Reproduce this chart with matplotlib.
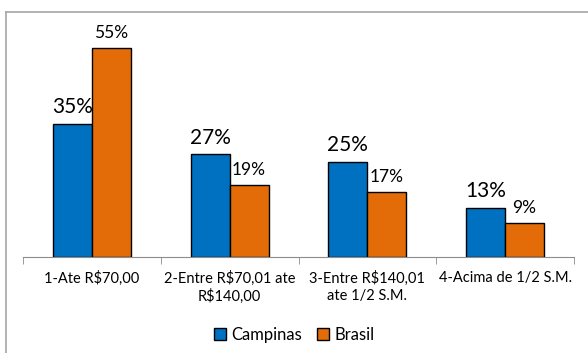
import matplotlib.pyplot as plt
import numpy as np
from matplotlib.lines import Line2D

categorias = ['1-Ate R$70,00', '2-Entre R$70,01 ate\nR$140,00',
              '3-Entre R$140,01\nate 1/2 S.M.', '4-Acima de 1/2 S.M.']
campinas = [35, 27, 25, 13]
brasil = [55, 19, 17, 9]

plt.rcParams['font.family'] = ['Lato', 'DejaVu Sans']

fig = plt.figure(figsize=(5.88, 3.53), dpi=100)
W, H = 588, 353
ax = fig.add_axes([23 / W, (H - 257) / H, (574 - 23) / W, (257 - 20) / H])

x = np.arange(len(categorias))
w = 0.283
b1 = ax.bar(x - w / 2, campinas, w, color='#0070C0', edgecolor='black', lw=1, label='Campinas')
b2 = ax.bar(x + w / 2, brasil, w, color='#E36C09', edgecolor='black', lw=1, label='Brasil')

for r, v in zip(b1, campinas):
    ax.annotate('%d%%' % v, (r.get_x() + r.get_width() / 2, v), xytext=(0, 5),
                textcoords='offset points', ha='center', va='bottom', fontsize=15)
for r, v in zip(b2, brasil):
    ax.annotate('%d%%' % v, (r.get_x() + r.get_width() / 2, v), xytext=(0, 5),
                textcoords='offset points', ha='center', va='bottom', fontsize=12.5)

ax.set_xlim(-0.5, 3.5)
ax.set_ylim(0, 62.4)
ax.set_yticks([])
for s in ['left', 'right', 'top']:
    ax.spines[s].set_visible(False)
ax.spines['bottom'].set_color('#8C8C8C')
ax.set_xticks(x)
ax.set_xticklabels(categorias, fontsize=10.5, linespacing=1.25)
ax.tick_params(axis='x', which='major', length=0, pad=10)
ax.set_xticks(np.arange(-0.5, 4, 1), minor=True)
ax.tick_params(axis='x', which='minor', length=5, color='#8C8C8C')

fig.legend(handles=[b1, b2], loc='center', bbox_to_anchor=(0.5, 1 - 335 / H), ncol=2,
           frameon=False, fontsize=12, handlelength=0.75, handleheight=0.75,
           handletextpad=0.3, columnspacing=0.9)

# moldura do grafico
fig.add_artist(Line2D([6 / W, 1], [1 - 12 / H, 1 - 12 / H], color='#A6A6A6', lw=1.2))
fig.add_artist(Line2D([6 / W, 6 / W], [0, 1 - 12 / H], color='#A6A6A6', lw=1.2))

fig.savefig('out.png', dpi=100)
